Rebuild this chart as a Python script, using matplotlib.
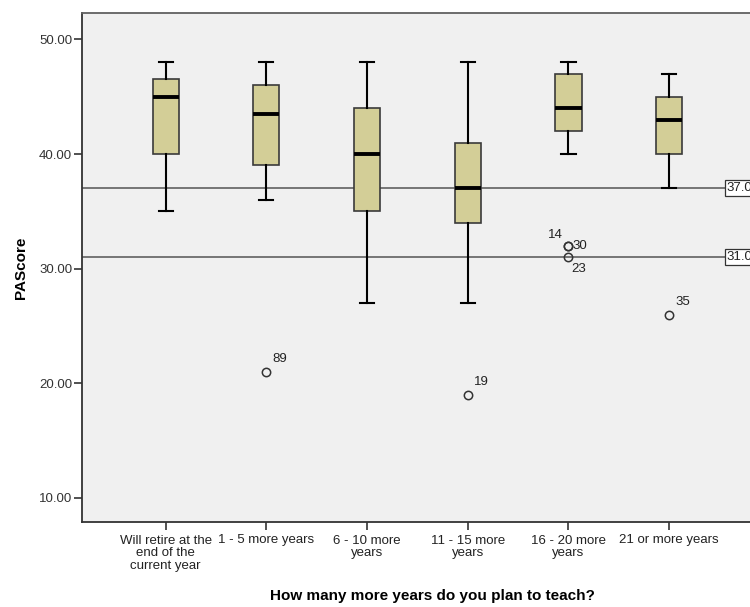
import matplotlib
matplotlib.use('Agg')
import matplotlib.pyplot as plt

# box statistics
groups = ['Will retire at the\nend of the\ncurrent year', '1 - 5 more years',
          '6 - 10 more\nyears', '11 - 15 more\nyears', '16 - 20 more\nyears',
          '21 or more years']
whisker_low = [35, 36, 27, 27, 40, 37]
q1 = [40, 39, 35, 34, 42, 40]
median = [45, 43.5, 40, 37, 44, 43]
q3 = [46.5, 46, 44, 41, 47, 45]
whisker_high = [48, 48, 48, 48, 48, 47]

# outliers: group index (1-based), value, case id
outlier_group = [2, 4, 5, 5, 5, 6]
outlier_value = [21, 19, 32, 32, 31, 26]
outlier_id = ['89', '19', '14', '30', '23', '35']

ref_lines = [37.0, 31.0]

# label placement in pixels relative to the point
label_offset = {'89': (6, 13, 'left'), '19': (6, 13, 'left'), '14': (-6, 11, 'right'),
                '30': (4, 0, 'left'), '23': (3, -12, 'left'), '35': (6, 13, 'left')}

plt.rcParams['font.family'] = ['Liberation Sans', 'DejaVu Sans']

fig = plt.figure(figsize=(7.5, 6.07), dpi=100)
ax = fig.add_axes([82 / 750, 1 - 522 / 607, 700 / 750, 509 / 607])
ax.set_facecolor('#F0F0F0')

stats = []
for i in range(len(groups)):
    fl = [v for g, v in zip(outlier_group, outlier_value) if g == i + 1]
    stats.append(dict(med=median[i], q1=q1[i], q3=q3[i], whislo=whisker_low[i],
                      whishi=whisker_high[i], fliers=fl))

ax.bxp(stats, positions=range(1, len(groups) + 1), widths=0.26, patch_artist=True,
       boxprops=dict(facecolor='#D3CE97', edgecolor='#3A3A3A', linewidth=1.2),
       medianprops=dict(color='black', linewidth=2.8, solid_capstyle='butt'),
       whiskerprops=dict(color='black', linewidth=1.5),
       capprops=dict(color='black', linewidth=1.5),
       capwidths=0.14,
       flierprops=dict(marker='o', markerfacecolor='none', markeredgecolor='#333333',
                       markersize=6, markeredgewidth=1.1))

for g, v, lab in zip(outlier_group, outlier_value, outlier_id):
    dx, dy, ha = label_offset[lab]
    ax.annotate(lab, (g, v), xytext=(dx, dy), textcoords='offset pixels',
                ha=ha, va='center', fontsize=9.5, color='#222222')

for r in ref_lines:
    ax.axhline(r, color='#606060', linewidth=1.2, zorder=1)
    ax.text(6.57, r, '%.1f' % r, ha='left', va='center', fontsize=9.5, color='#222222',
            bbox=dict(boxstyle='square,pad=0.15', facecolor='white', edgecolor='#333333',
                      linewidth=0.9))

ax.set_xlim(0.17, 7.12)
ax.set_ylim(7.9, 52.3)
ax.set_yticks([10, 20, 30, 40, 50])
ax.set_yticklabels(['%.2f' % t for t in [10, 20, 30, 40, 50]])
ax.set_xticks(range(1, len(groups) + 1))
ax.set_xticklabels(groups, linespacing=1.1)

for lab in ax.get_xticklabels():
    lab.set_fontsize(9.5)

ax.tick_params(axis='y', labelsize=9.5, length=6, width=1.2, color='#333333',
               labelcolor='#333333', pad=1)
ax.tick_params(axis='x', length=6, width=1.2, color='#333333', labelcolor='#222222', pad=3)

for s in ['left', 'bottom']:
    ax.spines[s].set_color('#333333')
    ax.spines[s].set_linewidth(1.3)
ax.spines['top'].set_color('#606060')
ax.spines['top'].set_linewidth(1.3)
ax.spines['right'].set_visible(False)

ax.set_ylabel('PAScore', fontsize=11, fontweight='bold', labelpad=8)
ax.set_xlabel('How many more years do you plan to teach?', fontsize=11,
              fontweight='bold', labelpad=12)

fig.savefig('out.png', dpi=100)
